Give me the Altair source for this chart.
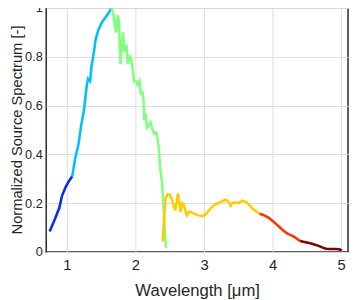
import altair as alt
import pandas as pd

seg_names = ["s1", "s2", "s3", "s4", "s5", "s6"]
seg_colors = ["#0a2ee8", "#00bfff", "#80ff80", "#ffcc00", "#ff3300", "#800000"]

blue_x = [0.75, 0.82, 0.89, 0.93, 0.99, 1.03, 1.08]
blue_y = [0.084, 0.13, 0.18, 0.23, 0.27, 0.29, 0.31]

cyan_x = [1.08, 1.12, 1.17, 1.21, 1.25, 1.29, 1.31, 1.34, 1.36, 1.39, 1.42, 1.46, 1.51, 1.56, 1.60, 1.63, 1.655]
cyan_y = [0.31, 0.38, 0.44, 0.52, 0.58, 0.68, 0.71, 0.70, 0.76, 0.81, 0.87, 0.91, 0.94, 0.96, 0.975, 0.99, 1.0]

green_x = [1.655, 1.68, 1.70, 1.72, 1.74, 1.76, 1.77, 1.785, 1.80, 1.82, 1.84, 1.87, 1.89, 1.92,
           1.94, 1.96, 1.98, 2.01, 2.03, 2.06, 2.08, 2.10, 2.12, 2.13, 2.15, 2.17, 2.20, 2.22,
           2.25, 2.27, 2.30, 2.32, 2.34, 2.36, 2.39, 2.41, 2.43, 2.445]
green_y = [1.0, 0.97, 0.93, 0.90, 0.97, 0.95, 0.85, 0.77, 0.86, 0.90, 0.82, 0.85, 0.77, 0.80,
           0.79, 0.75, 0.70, 0.70, 0.685, 0.70, 0.645, 0.66, 0.62, 0.54, 0.565, 0.51, 0.52, 0.53,
           0.50, 0.485, 0.49, 0.47, 0.43, 0.35, 0.28, 0.19, 0.08, 0.016]

yellow_x = [2.40, 2.42, 2.44, 2.47, 2.50, 2.53, 2.56, 2.58, 2.60, 2.62, 2.64, 2.66, 2.68, 2.70,
            2.73, 2.75, 2.79, 2.83, 2.86, 2.92, 2.98, 3.03, 3.07, 3.12, 3.17, 3.21, 3.24, 3.28,
            3.31, 3.34, 3.36, 3.39, 3.41, 3.45, 3.50, 3.56, 3.62, 3.67, 3.71, 3.76, 3.81]
yellow_y = [0.043, 0.15, 0.22, 0.237, 0.235, 0.215, 0.19, 0.17, 0.20, 0.24, 0.20, 0.165, 0.20, 0.197,
            0.17, 0.15, 0.166, 0.16, 0.157, 0.15, 0.147, 0.155, 0.17, 0.185, 0.197, 0.20, 0.204, 0.21,
            0.214, 0.21, 0.204, 0.19, 0.20, 0.204, 0.20, 0.21, 0.204, 0.19, 0.177, 0.167, 0.157]

red_x = [3.81, 3.88, 3.95, 4.01, 4.07, 4.14, 4.21, 4.26, 4.31, 4.36, 4.40]
red_y = [0.157, 0.15, 0.139, 0.125, 0.11, 0.092, 0.076, 0.07, 0.063, 0.053, 0.045]

dred_x = [4.40, 4.48, 4.55, 4.62, 4.69, 4.74, 4.78, 4.85, 4.92, 4.97, 5.01]
dred_y = [0.045, 0.04, 0.036, 0.03, 0.023, 0.017, 0.013, 0.012, 0.012, 0.011, 0.006]

x_ticks = [1, 2, 3, 4, 5]
y_ticks = [0, 0.2, 0.4, 0.6, 0.8, 1]

rows = []
for name, xs, ys in zip(seg_names,
                        [blue_x, cyan_x, green_x, yellow_x, red_x, dred_x],
                        [blue_y, cyan_y, green_y, yellow_y, red_y, dred_y]):
    for i, (xv, yv) in enumerate(zip(xs, ys)):
        rows.append({"seg": name, "wl": xv, "val": yv, "idx": i})
df = pd.DataFrame(rows)

chart = alt.Chart(df).mark_line(strokeWidth=2.6).encode(
    x=alt.X("wl:Q", scale=alt.Scale(domain=[0.7, 5.1], nice=False, zero=False),
            axis=alt.Axis(values=x_ticks, title="Wavelength [μm]", format="d",
                          titlePadding=10, labelFontSize=15, titleFontSize=17)),
    y=alt.Y("val:Q", scale=alt.Scale(domain=[0, 1], nice=False),
            axis=alt.Axis(values=y_ticks, title="Normalized Source Spectrum [-]",
                          format=".1~f", titleX=-22.2, titleY=124,
                          labelFontSize=13, titleFontSize=15, labelPadding=4,
                          titleBaseline="bottom", titleAngle=270)),
    color=alt.Color("seg:N", scale=alt.Scale(domain=seg_names, range=seg_colors), legend=None),
    order="idx:Q",
).properties(
    width=308, height=249,
    autosize=alt.AutoSizeParams(type="none"),
    padding={"left": 39, "top": -3, "right": 1, "bottom": 46},
).configure_view(
    stroke="#262626", strokeWidth=1.5
).configure_axis(
    domain=False, ticks=False, labelPadding=6,
    labelFont="Liberation Sans", titleFont="Liberation Sans",
    titleFontWeight="normal",
    labelColor="#262626", titleColor="#262626",
    grid=True, gridColor="#dcdcdc", gridWidth=1,
)

chart.save("out.html", embed_options={"renderer": "svg", "actions": False})
